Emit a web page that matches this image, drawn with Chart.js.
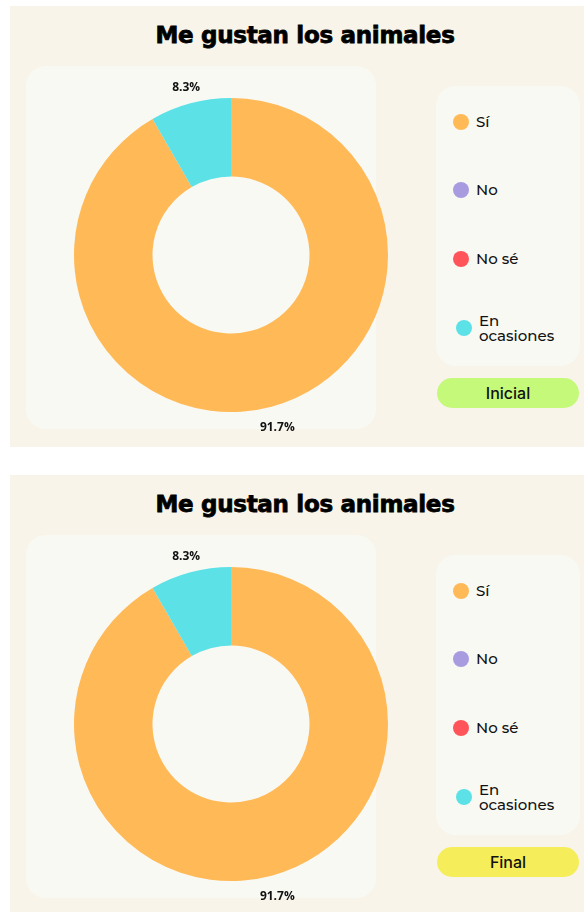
<!DOCTYPE html>
<html>
<head>
<meta charset="utf-8">
<script src="https://cdn.jsdelivr.net/npm/chart.js@4/dist/chart.umd.min.js"></script>
<style>
  html, body { margin:0; padding:0; background:#ffffff; }
  body { width:584px; height:912px; position:relative; overflow:hidden; }
  .panel { position:absolute; left:10px; width:574px; background:#F8F4EA; }
  .title { position:absolute; left:0; width:600px; text-align:center; font-family:"DejaVu Sans", sans-serif; font-weight:bold; font-size:23px; color:#000; letter-spacing:-0.3px; -webkit-text-stroke:0.8px #000; }
  .inner { position:absolute; left:26px; width:350px; height:363px; background:#F9F9F4; border-radius:20px; }
  .legbox { position:absolute; left:436px; width:144px; height:280px; background:#F9F9F4; border-radius:20px; }
  .item { position:absolute; left:453px; font-family:"Montserrat","Inter",sans-serif; font-weight:500; font-size:15px; color:#111; line-height:15px; }
  .dot { position:absolute; width:16px; height:16px; border-radius:50%; }
  .btn { position:absolute; left:437px; width:142px; height:30px; border-radius:15px; text-align:center; line-height:30px; font-family:"Inter",sans-serif; font-weight:500; font-size:16px; color:#111; }
  canvas { position:absolute; }
</style>
</head>
<body>
<div id="root"></div>
<script>
const categories = ["Sí", "No", "No sé", "En ocasiones"];
const legendLabels = [["Sí"], ["No"], ["No sé"], ["En", "ocasiones"]];
const valuesInicial = [11, 0, 0, 1];
const valuesFinal = [11, 0, 0, 1];
const sliceColors = ["#FFB957", "#A99BDF", "#FF5459", "#5CE1E6"];
const chartTitle = "Me gustan los animales";
const panelNames = ["Inicial", "Final"];
const buttonColors = ["#C4F97A", "#F5EE5A"];

const root = document.getElementById('root');
const panels = [
  { off: 0, values: valuesInicial, name: panelNames[0], btn: buttonColors[0] },
  { off: 469, values: valuesFinal, name: panelNames[1], btn: buttonColors[1] }
];

const pctPlugin = {
  id: 'pctLabels',
  afterDatasetsDraw(chart) {
    const ctx = chart.ctx;
    const meta = chart.getDatasetMeta(0);
    const data = chart.data.datasets[0].data;
    const total = data.reduce((a, b) => a + b, 0);
    ctx.save();
    ctx.font = 'bold 12px "Open Sans", sans-serif';
    ctx.fillStyle = '#111';
    ctx.textAlign = 'center';
    ctx.textBaseline = 'middle';
    meta.data.forEach((arc, i) => {
      if (!data[i]) return;
      const mid = (arc.startAngle + arc.endAngle) / 2;
      const r = arc.outerRadius + 19 + 3 * Math.sin(mid);
      const x = arc.x + Math.cos(mid) * r;
      const y = arc.y + Math.sin(mid) * r;
      ctx.fillText((data[i] / total * 100).toFixed(1) + '%', x, y);
    });
    ctx.restore();
  }
};

panels.forEach((p, idx) => {
  const o = p.off;
  const panel = document.createElement('div');
  panel.className = 'panel';
  panel.style.top = (6 + o) + 'px';
  panel.style.height = (idx === 0 ? 441 : 437) + 'px';
  root.appendChild(panel);

  const t = document.createElement('div');
  t.className = 'title';
  t.style.top = (22 + o) + 'px';
  t.style.left = '5px';
  t.style.width = '600px';
  t.textContent = chartTitle;
  root.appendChild(t);

  const inner = document.createElement('div');
  inner.className = 'inner';
  inner.style.top = (66 + o) + 'px';
  root.appendChild(inner);

  const lb = document.createElement('div');
  lb.className = 'legbox';
  lb.style.top = (86 + o) + 'px';
  root.appendChild(lb);

  const ys = [122, 190, 259, 328];
  categories.forEach((c, i) => {
    const d = document.createElement('div');
    d.className = 'dot';
    d.style.background = sliceColors[i];
    d.style.left = (i === 3 ? 456 : 453) + 'px';
    d.style.top = (ys[i] - 8 + o) + 'px';
    root.appendChild(d);
    const lines = legendLabels[i];
    const tx = document.createElement('div');
    tx.className = 'item';
    tx.style.left = (i === 3 ? 479 : 476) + 'px';
    tx.style.top = (ys[i] - 8 - (lines.length - 1) * 7 + o) + 'px';
    tx.innerHTML = lines.join('<br>');
    root.appendChild(tx);
  });

  const b = document.createElement('div');
  b.className = 'btn';
  b.style.top = (378 + o) + 'px';
  b.style.background = p.btn;
  b.textContent = p.name;
  root.appendChild(b);

  const cv = document.createElement('canvas');
  cv.style.left = '56px';
  cv.style.top = (72 + o) + 'px';
  cv.style.width = '350px';
  cv.style.height = '366px';
  cv.width = 350; cv.height = 366;
  root.appendChild(cv);

  new Chart(cv, {
    type: 'doughnut',
    data: {
      labels: categories,
      datasets: [{ data: p.values, backgroundColor: sliceColors, borderWidth: 0 }]
    },
    options: {
      responsive: false,
      animation: false,
      cutout: '50%',
      layout: { padding: 18 },
      plugins: { legend: { display: false }, tooltip: { enabled: false } }
    },
    plugins: [pctPlugin]
  });
});
</script>
</body>
</html>
